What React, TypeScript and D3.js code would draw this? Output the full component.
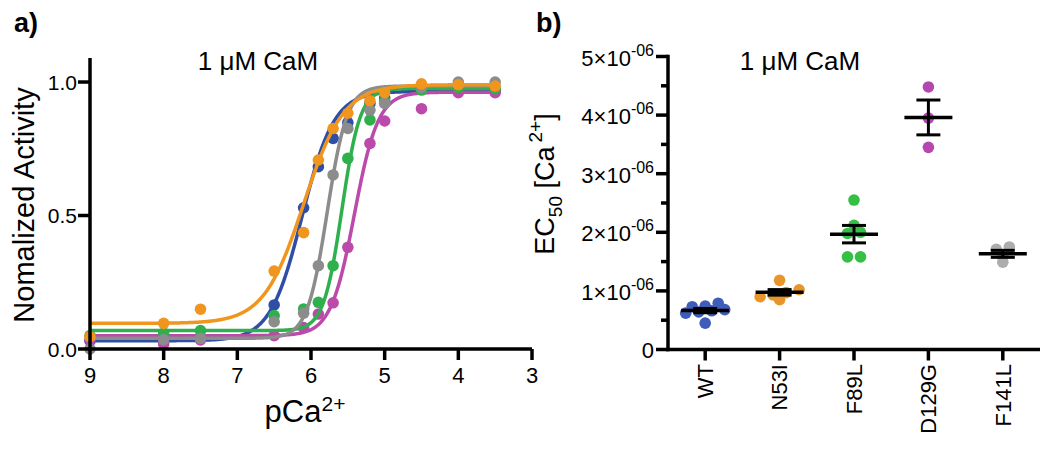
import React from 'react';
import * as d3 from 'd3';

const W = 1050;
const H = 449;

// ---------- Panel a: activity vs pCa ----------
const pCaLevels = [9, 8, 7.5, 6.5, 6.1, 5.9, 5.7, 5.5, 5.2, 5, 4.5, 4, 3.5];
const activityWT = [0.03, 0.03, 0.04, 0.165, 0.529, 0.683, 0.789, 0.848, 0.92, 0.94, 0.975, 0.97, 0.967];
const activityN53I = [0.046, 0.096, 0.149, 0.292, 0.436, 0.708, 0.826, 0.883, 0.93, 0.96, 0.993, 0.99, 0.985];
const activityF89L = [0.05, 0.06, 0.069, 0.125, 0.15, 0.175, 0.312, 0.714, 0.858, 0.93, 0.97, 0.98, 0.975];
const activityD129G = [0.034, 0.019, 0.034, 0.05, 0.08, 0.131, 0.173, 0.381, 0.77, 0.854, 0.9, 0.96, 0.96];
const activityF141L = [0.0, 0.035, 0.04, 0.102, 0.134, 0.312, 0.652, 0.826, 0.895, 0.92, 0.98, 1.0, 1.0];

// fitted Hill-curve parameters
const fitBottom = [0.031, 0.096, 0.069, 0.05, 0.04];
const fitTop = [0.965, 0.99, 0.976, 0.962, 0.985];
const fitPEC50 = [6.12, 6.1, 5.58, 5.41, 5.78];
const fitHill = [2.0, 1.6, 3.5, 2.7, 3.2];

const xTicksA = [9, 8, 7, 6, 5, 4, 3];
const yTicksA = [0, 0.5, 1.0];
const yTickLabelsA = ['0.0', '0.5', '1.0'];

// ---------- Panel b: EC50 ----------
const mutants = ['WT', 'N53I', 'F89L', 'D129G', 'F141L'];
const ec50WT = [0.45e-6, 0.62e-6, 0.64e-6, 0.66e-6, 0.68e-6, 0.73e-6, 0.74e-6, 0.79e-6];
const ec50N53I = [1.18e-6, 1.02e-6, 0.97e-6, 0.93e-6, 0.9e-6, 0.85e-6];
const ec50F89L = [2.55e-6, 2.12e-6, 2.0e-6, 1.98e-6, 1.58e-6, 1.58e-6];
const ec50D129G = [4.48e-6, 3.95e-6, 3.45e-6];
const ec50F141L = [1.75e-6, 1.71e-6, 1.58e-6, 1.49e-6];
const yTicksB = [0, 1e-6, 2e-6, 3e-6, 4e-6, 5e-6];
const yTickMantissaB = ['0', '1', '2', '3', '4', '5'];
const yMinorTicksB = [0.5e-6, 1.5e-6, 2.5e-6, 3.5e-6, 4.5e-6];

const colorsA = ['#2f4ea6', '#f0951e', '#2eb04c', '#bb4aaa', '#8c8c8c'];
const colorsB = ['#3f5cb8', '#e8962a', '#35c045', '#b548b0', '#adadad'];

const activities = [activityWT, activityN53I, activityF89L, activityD129G, activityF141L];
const ec50s = [ec50WT, ec50N53I, ec50F89L, ec50D129G, ec50F141L];
const drawOrderA = [0, 3, 2, 4, 1];

const FONT = '"Liberation Sans", Arial, Helvetica, sans-serif';

// GraphPad-style scatter: points falling in the same horizontal row are spread evenly, centred
function rowSpread(values: number[], y: (v: number) => number, y0: number, rowH: number, gap: number): number[] {
  const rows = d3.group(
    values.map((v, i) => ({ i, v, row: Math.floor((y0 - y(v)) / rowH) })),
    (d) => d.row
  );
  const out: number[] = new Array(values.length).fill(0);
  rows.forEach((pts) => {
    const sorted = [...pts].sort((a, b) => a.v - b.v);
    const n = sorted.length;
    sorted.forEach((p, j) => {
      out[p.i] = (j - (n - 1) / 2) * gap;
    });
  });
  return out;
}

export default function App() {
  // Panel a scales
  const xA = d3.scaleLinear().domain([9, 3]).range([90, 532]);
  const yA = d3.scaleLinear().domain([0, 1.09]).range([349, 58]);
  const curveX = d3.range(9, 3.5 - 1e-9, -0.01);
  const hill = (k: number, p: number) =>
    fitBottom[k] + (fitTop[k] - fitBottom[k]) / (1 + Math.pow(10, fitHill[k] * (p - fitPEC50[k])));
  const curvePath = (k: number) =>
    d3
      .line<number>()
      .x((p) => xA(p))
      .y((p) => yA(hill(k, p)))(curveX) as string;

  // Panel b scales
  const xB = d3.scalePoint<string>().domain(mutants).range([668, 1040]).padding(0.5);
  const yB = d3.scaleLinear().domain([0, 5e-6]).range([349.5, 56.5]);
  const axX = 668;

  const axisW = 3.5;
  const dotR = 5.8;

  return (
    <svg
      width={W}
      height={H}
      style={{ position: 'absolute', left: 0, top: 0, background: '#fff' }}
      fontFamily={FONT}
    >
      <rect width={W} height={H} fill="#fff" />
      {/* ---------------- Panel a ---------------- */}
      <text x={14} y={32} fontSize={27} fontWeight="bold">a)</text>
      <text x={258} y={70} fontSize={26} textAnchor="middle">1 μM CaM</text>

      {drawOrderA.map((k) => (
        <g key={k}>
          <path d={curvePath(k)} fill="none" stroke={colorsA[k]} strokeWidth={3.5} />
          {activities[k].map((v, i) => (
            <circle key={i} cx={xA(pCaLevels[i])} cy={yA(v)} r={dotR} fill={colorsA[k]} />
          ))}
        </g>
      ))}

      {/* axes a */}
      <line x1={xA(9)} x2={xA(9)} y1={yA(1.09)} y2={yA(0) + axisW / 2} stroke="#000" strokeWidth={axisW} />
      <line x1={xA(9) - axisW / 2} x2={xA(3)} y1={yA(0)} y2={yA(0)} stroke="#000" strokeWidth={axisW} />
      {xTicksA.map((t) => (
        <g key={t}>
          <line x1={xA(t)} x2={xA(t)} y1={yA(0)} y2={yA(0) + 11} stroke="#000" strokeWidth={axisW} />
          <text x={xA(t)} y={yA(0) + 34} fontSize={22} textAnchor="middle">{t}</text>
        </g>
      ))}
      {yTicksA.map((t, i) => (
        <g key={t}>
          <line x1={xA(9) - 12} x2={xA(9)} y1={yA(t)} y2={yA(t)} stroke="#000" strokeWidth={axisW} />
          <text x={xA(9) - 13} y={yA(t)} dy="0.36em" fontSize={21} textAnchor="end">{yTickLabelsA[i]}</text>
        </g>
      ))}
      <text x={305} y={422} fontSize={31} textAnchor="middle">
        pCa<tspan fontSize={21} dy={-11}>2+</tspan>
      </text>
      <text transform={`translate(34, 205) rotate(-90)`} fontSize={29} textAnchor="middle">
        Nomalized Activity
      </text>

      {/* ---------------- Panel b ---------------- */}
      <text x={536} y={32} fontSize={27} fontWeight="bold">b)</text>
      <text x={800} y={70} fontSize={26} textAnchor="middle">1 μM CaM</text>

      {mutants.map((m, k) => {
        const vals = ec50s[k];
        const offs = rowSpread(vals, (v) => yB(v), yB(0), 10, 13);
        const mean = d3.mean(vals) as number;
        const sd = d3.deviation(vals) as number;
        const sem = sd / Math.sqrt(vals.length);
        const cx = xB(m) as number;
        return (
          <g key={m}>
            {vals.map((v, i) => (
              <circle key={i} cx={cx + offs[i]} cy={yB(v)} r={dotR} fill={colorsB[k]} />
            ))}
            <line x1={cx - 24} x2={cx + 24} y1={yB(mean)} y2={yB(mean)} stroke="#000" strokeWidth={3.5} />
            <line x1={cx} x2={cx} y1={yB(mean + sem)} y2={yB(mean - sem)} stroke="#000" strokeWidth={3} />
            <line x1={cx - 12} x2={cx + 12} y1={yB(mean + sem)} y2={yB(mean + sem)} stroke="#000" strokeWidth={3} />
            <line x1={cx - 12} x2={cx + 12} y1={yB(mean - sem)} y2={yB(mean - sem)} stroke="#000" strokeWidth={3} />
          </g>
        );
      })}

      {/* axes b */}
      <line x1={axX} x2={axX} y1={yB(5e-6) - axisW / 2} y2={yB(0) + axisW / 2} stroke="#000" strokeWidth={axisW} />
      <line x1={axX - axisW / 2} x2={1040} y1={yB(0)} y2={yB(0)} stroke="#000" strokeWidth={axisW} />
      {yMinorTicksB.map((t) => (
        <line key={t} x1={axX - 7} x2={axX} y1={yB(t)} y2={yB(t)} stroke="#000" strokeWidth={axisW} />
      ))}
      {yTicksB.map((t, i) => (
        <g key={t}>
          <line x1={axX - 12} x2={axX} y1={yB(t)} y2={yB(t)} stroke="#000" strokeWidth={axisW} />
          {t === 0 ? (
            <text x={axX - 14} y={yB(t) + 8} fontSize={22} textAnchor="end">0</text>
          ) : (
            <text x={axX - 14} y={yB(t) + 9} fontSize={22} textAnchor="end">
              {yTickMantissaB[i]}×10<tspan fontSize={16} dy={-10}>-06</tspan>
            </text>
          )}
        </g>
      ))}
      {mutants.map((m) => (
        <g key={m}>
          <line x1={xB(m) as number} x2={xB(m) as number} y1={yB(0)} y2={yB(0) + 11} stroke="#000" strokeWidth={axisW} />
          <text transform={`translate(${xB(m)}, 364) rotate(-90)`} dy="0.35em" fontSize={22} textAnchor="end">
            {m}
          </text>
        </g>
      ))}
      <text
        transform={`translate(554, 184) rotate(-90)`}
        fontSize={27}
        textAnchor="middle"
      >
        EC<tspan fontSize={19} dy={8}>50</tspan>
        <tspan dy={-8}>{'\u00A0[Ca'}</tspan>
        <tspan fontSize={19} dx={4} dy={-12}>2+</tspan>
        <tspan dy={12}>]</tspan>
      </text>
    </svg>
  );
}
